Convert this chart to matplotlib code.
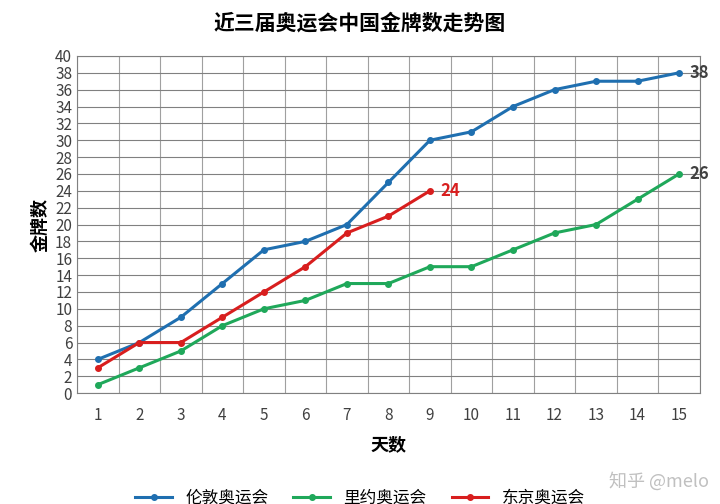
import matplotlib.pyplot as plt
import numpy as np

plt.rcParams['font.family'] = ['Noto Sans CJK SC', 'DejaVu Sans']

days = list(range(1, 16))
london = [4, 6, 9, 13, 17, 18, 20, 25, 30, 31, 34, 36, 37, 37, 38]
rio = [1, 3, 5, 8, 10, 11, 13, 13, 15, 15, 17, 19, 20, 23, 26]
tokyo = [3, 6, 6, 9, 12, 15, 19, 21, 24]
names = ['伦敦奥运会', '里约奥运会', '东京奥运会']
colors = ['#1f6fb0', '#1fa85a', '#d81e1e']
label_colors = ['#404040', '#404040', '#d81e1e']

fig = plt.figure(figsize=(7.2, 5.04), dpi=100)
ax = fig.add_axes([0.107, 0.220, 0.865, 0.669])

series = [london, rio, tokyo]
for vals, name, c, lc in zip(series, names, colors, label_colors):
    x = days[:len(vals)]
    ax.plot(x, vals, color=c, lw=2.2, marker='o', ms=4, label=name)
    ax.text(x[-1] + 0.25, vals[-1], str(vals[-1]), color=lc,
            fontsize=12, fontweight='bold', va='center', ha='left', clip_on=False)

ax.set_xlim(0.5, 15.5)
ax.set_ylim(0, 40)
ax.set_yticks(range(0, 41, 2))
ax.set_xticks(days)
ax.set_xticks(np.arange(0.5, 15.6, 1), minor=True)
ax.tick_params(which='both', length=0, labelsize=11, colors='#404040')
ax.tick_params(axis='x', pad=10)
ax.grid(True, which='minor', axis='x', color='#a0a0a0', lw=0.8)
ax.grid(True, which='major', axis='y', color='#808080', lw=0.8)
for s in ax.spines.values():
    s.set_color('#808080')

ax.set_xlabel('天数', fontsize=13, fontweight='bold', labelpad=8)
ax.set_ylabel('金牌数', fontsize=13, fontweight='bold')
fig.text(0.5, 0.955, '近三届奥运会中国金牌数走势图', ha='center', va='center', fontsize=15, fontweight='bold')
fig.legend(loc='lower center', ncol=3, frameon=False, fontsize=12, bbox_to_anchor=(0.5, -0.035),
           handlelength=2.2, columnspacing=1.5)
fig.text(0.985, 0.045, '知乎 @melo', ha='right', va='center', fontsize=13, color='#c0c0c0')

fig.savefig('out.png')
